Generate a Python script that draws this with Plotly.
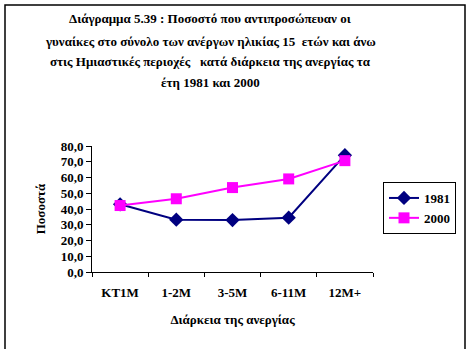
import plotly.graph_objects as go

categories = ["KT1M", "1-2M", "3-5M", "6-11M", "12M+"]
values_1981 = [43.0, 33.2, 33.0, 34.5, 74.2]
values_2000 = [42.2, 46.5, 53.6, 59.1, 70.7]
ytick_vals = [0, 10, 20, 30, 40, 50, 60, 70, 80]
ytick_text = ["0,0", "10,0", "20,0", "30,0", "40,0", "50,0", "60,0", "70,0", "80,0"]

title_lines = [
    "Διάγραμμα 5.39 : Ποσοστό που αντιπροσώπευαν οι",
    "γυναίκες στο σύνολο των ανέργων ηλικίας 15  ετών και άνω",
    "στις Ημιαστικές περιοχές   κατά διάρκεια της ανεργίας τα",
    "έτη 1981 και 2000",
]

FONT = "Liberation Serif"

fig = go.Figure()
fig.add_trace(go.Scatter(
    x=categories, y=values_1981, name="1981", mode="lines+markers",
    line=dict(color="#000080", width=2),
    marker=dict(symbol="diamond", size=11, color="#000080"),
))
fig.add_trace(go.Scatter(
    x=categories, y=values_2000, name="2000", mode="lines+markers",
    line=dict(color="#FF00FF", width=2),
    marker=dict(symbol="square", size=11, color="#FF00FF"),
))

W, H = 468, 349
L, R, T, B = 92, 95, 146, 77
pw = W - L - R
ph = H - T - B

def px_to_paper_x(px):
    return (px - L) / pw

def px_to_paper_y(py):
    return (H - B - py) / ph

title_y_px = [18, 41, 62, 82]
annotations = []
for line, ypx in zip(title_lines, title_y_px):
    annotations.append(dict(
        text=line, xref="paper", yref="paper",
        x=px_to_paper_x(210), y=px_to_paper_y(ypx),
        xanchor="center", yanchor="middle", showarrow=False,
        font=dict(family=FONT, size=13, color="black", weight="bold"),
    ))

fig.update_layout(
    width=W, height=H,
    margin=dict(l=L, r=R, t=T, b=B, pad=0),
    paper_bgcolor="white", plot_bgcolor="white",
    font=dict(family=FONT, size=12, color="black", weight="bold"),
    annotations=annotations,
    showlegend=True,
    hovermode=False,
    legend=dict(
        x=px_to_paper_x(383), y=px_to_paper_y(182), xanchor="left", yanchor="top",
        bordercolor="black", borderwidth=1, bgcolor="white",
        font=dict(family=FONT, size=13, color="black", weight="bold"),
        tracegroupgap=4,
    ),
    xaxis=dict(
        type="category", range=[-0.5, 4.5], showgrid=False, zeroline=False,
        showline=True, linecolor="black", linewidth=1,
        ticks="outside", tickson="boundaries", ticklen=4, tickcolor="black",
        ticklabelstandoff=8,
        tickfont=dict(family=FONT, size=13, color="black", weight="bold"),
        title=dict(text="Διάρκεια της ανεργίας", standoff=16,
                   font=dict(family=FONT, size=13, color="black", weight="bold")),
    ),
    yaxis=dict(
        range=[0, 80], showgrid=False, zeroline=False,
        showline=True, linecolor="black", linewidth=1,
        ticks="outside", ticklen=5, tickcolor="black",
        tickmode="array", tickvals=ytick_vals, ticktext=ytick_text,
        tickfont=dict(family=FONT, size=13, color="black", weight="bold"),
        title=dict(text="Ποσοστά", standoff=12,
                   font=dict(family=FONT, size=13, color="black", weight="bold")),
    ),
    shapes=[dict(
        type="rect", xref="paper", yref="paper",
        x0=px_to_paper_x(5), x1=px_to_paper_x(465),
        y0=px_to_paper_y(360), y1=px_to_paper_y(5),
        line=dict(color="black", width=1.5), fillcolor="rgba(0,0,0,0)", layer="below",
    )],
)

fig.write_html("out.html", config={"displayModeBar": False},
               post_script="document.body.style.margin='0';")
